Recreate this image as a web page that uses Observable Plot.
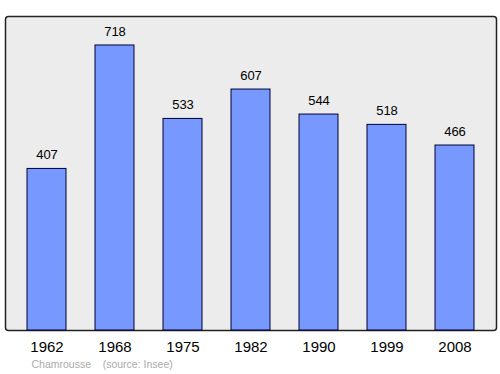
<!DOCTYPE html>
<html>
<head>
<meta charset="utf-8">
<script src="https://cdn.jsdelivr.net/npm/d3@7"></script>
<script src="https://cdn.jsdelivr.net/npm/@observablehq/plot@0.6"></script>
<style>
  body { margin: 0; background: #fff; }
</style>
</head>
<body>
<div id="chart"></div>
<script>
const years = ["1962", "1968", "1975", "1982", "1990", "1999", "2008"];
const population = [407, 718, 533, 607, 544, 518, 466];
const caption = "Chamrousse    (source: Insee)";

const data = years.map((y, i) => ({year: y, pop: population[i]}));

const chart = Plot.plot({
  width: 500,
  height: 374,
  marginLeft: 5,
  marginRight: 4,
  marginTop: 16,
  marginBottom: 44,
  style: {fontFamily: "'Liberation Sans', Arial, sans-serif", fontSize: "14px", background: "#fff", color: "#000"},
  x: {domain: years, padding: 0.42, paddingOuter: 0.29, align: 0.5, label: null},
  y: {domain: [0, 791], axis: null},
  marks: [
    Plot.frame({fill: "#ececec", stroke: "#222", strokeWidth: 1.5, rx: 3}),
    Plot.barY(data, {x: "year", y: "pop", fill: "#7799ff", stroke: "#000033", strokeWidth: 1}),
    Plot.text(data, {x: "year", y: "pop", text: d => String(d.pop), dy: -14, fontSize: 13, fill: "#000"}),
    Plot.axisX({tickSize: 0, tickPadding: 11, fontSize: 15, fill: "#000", label: null}),
    Plot.text([caption], {frameAnchor: "bottom-left", dx: 26, dy: 37, text: d => d, fontSize: 10.5, fill: "#aaa", textAnchor: "start"})
  ]
});
chart.querySelectorAll("text").forEach(t => t.setAttribute("xml:space", "preserve"));
document.getElementById("chart").appendChild(chart);
</script>
</body>
</html>
